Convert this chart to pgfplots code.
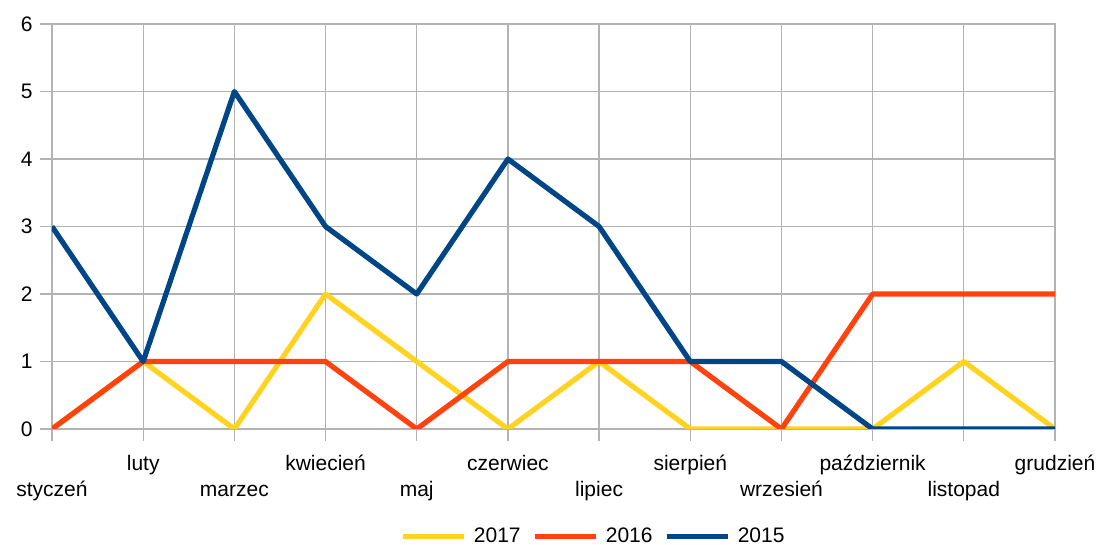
\documentclass[border=0pt]{standalone}
\usepackage{pgfplots}
\pgfplotsset{compat=1.18}
\usepackage{fontspec}
\setmainfont{Liberation Sans}
\definecolor{c17}{HTML}{FFD320}
\definecolor{c16}{HTML}{FF420E}
\definecolor{c15}{HTML}{004586}
\definecolor{gridc}{HTML}{B3B3B3}
\begin{document}
\fontsize{10.5bp}{12.6bp}\selectfont
\begin{tikzpicture}
\path[use as bounding box] (0,0) rectangle (550.5bp,272.5bp);
\begin{axis}[
  at={(26bp,58bp)}, anchor=south west,
  scale only axis, width=501.5bp, height=202.5bp,
  xmin=0, xmax=11, ymin=0, ymax=6,
  xtick={0,2,...,10},
  xticklabels={styczeń, marzec, maj, lipiec, wrzesień, listopad},
  extra x ticks={1,3,...,11},
  extra x tick labels={luty, kwiecień, czerwiec, sierpień, październik, grudzień},
  extra x tick style={grid=major, xticklabel style={yshift=13bp}},
  xticklabel style={anchor=base, yshift=-27.5bp},
  ytick={0,...,6},
  xtick pos=bottom, ytick pos=left,
  grid=major,
  grid style={color=gridc, line width=0.6bp},
  axis line style={gridc, line width=0.6bp},
  tick style={gridc, line width=0.6bp},
  tick align=outside, major tick length=6bp,
  /pgf/number format/assume math mode=true,
  no markers,
  legend style={at={(0.539,-0.265)}, anchor=center, draw=none, fill=none,
    legend columns=-1, nodes={inner sep=0pt},
    /tikz/every odd column/.append style={column sep=3.5bp},
    /tikz/every even column/.append style={column sep=6bp}},
  legend image code/.code={\draw[#1] (0bp,0bp) -- (30.5bp,0bp);},
]
\addplot[c17, line width=2.6bp, line join=round] coordinates {(0,0)(1,1)(2,0)(3,2)(4,1)(5,0)(6,1)(7,0)(8,0)(9,0)(10,1)(11,0)};
\addlegendentry{2017}
\addplot[c16, line width=2.6bp, line join=round] coordinates {(0,0)(1,1)(2,1)(3,1)(4,0)(5,1)(6,1)(7,1)(8,0)(9,2)(10,2)(11,2)};
\addlegendentry{2016}
\addplot[c15, line width=2.6bp, line join=round] coordinates {(0,3)(1,1)(2,5)(3,3)(4,2)(5,4)(6,3)(7,1)(8,1)(9,0)(10,0)(11,0)};
\addlegendentry{2015}
\end{axis}
\end{tikzpicture}
\end{document}
